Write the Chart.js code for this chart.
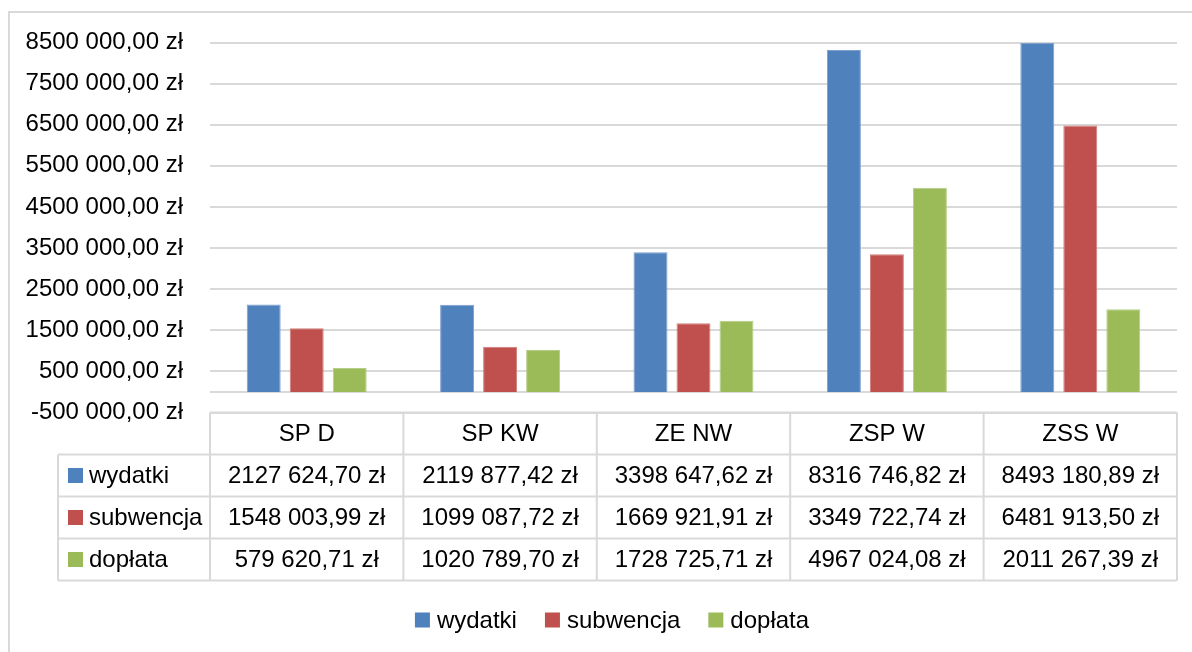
<!DOCTYPE html>
<html lang="pl">
<head>
<meta charset="utf-8">
<title>wydatki, subwencja, dopłata</title>
<script src="https://cdn.jsdelivr.net/npm/chart.js@4"></script>
<style>
  html, body { margin: 0; padding: 0; background: #fff; overflow: hidden; }
  #wrap { position: relative; width: 1192px; height: 652px; }
</style>
</head>
<body>
<div id="wrap"><canvas id="chart"></canvas></div>
<script>
// data
const categories = ['SP D', 'SP KW', 'ZE NW', 'ZSP W', 'ZSS W'];
const wydatki = [2127624.70, 2119877.42, 3398647.62, 8316746.82, 8493180.89];
const subwencja = [1548003.99, 1099087.72, 1669921.91, 3349722.74, 6481913.50];
const doplata = [579620.71, 1020789.70, 1728725.71, 4967024.08, 2011267.39];
const seriesNames = ['wydatki', 'subwencja', 'dopłata'];
const seriesColors = ['#4F81BD', '#C0504D', '#9BBB59'];
const seriesEdges = ['#7c9fcd', '#d07e7b', '#b5cd88'];
const yMin = -500000, yMax = 8500000, yStep = 1000000;

const FONT = "'Liberation Sans', Arial, sans-serif";
const GRID = '#d9d9d9';

// excel-like "8500 000,00 zł"
function formatZl(v) {
    const neg = v < 0;
    const parts = Math.abs(v).toFixed(2).split('.');
    let whole = parts[0];
    if (whole.length > 3) whole = whole.slice(0, -3) + ' ' + whole.slice(-3);
    return (neg ? '-' : '') + whole + ',' + parts[1] + ' zł';
}

const allSeries = [wydatki, subwencja, doplata];

// frame, zero line, data table and legend
const extras = {
    id: 'extras',
    beforeDraw(chart) {
        const ctx = chart.ctx;
        ctx.save();
        ctx.strokeStyle = GRID;
        ctx.lineWidth = 2;
        ctx.strokeRect(9, 12, 1230, 700);
        ctx.restore();
    },
    beforeDatasetsDraw(chart) {
        const ctx = chart.ctx, area = chart.chartArea;
        const y0 = chart.scales.y.getPixelForValue(0);
        ctx.save();
        ctx.strokeStyle = GRID;
        ctx.lineWidth = 2;
        ctx.beginPath();
        ctx.moveTo(area.left, y0);
        ctx.lineTo(area.right, y0);
        ctx.stroke();
        ctx.restore();
    },
    afterDraw(chart) {
        const ctx = chart.ctx, area = chart.chartArea, xs = chart.scales.x;
        const colW = (area.right - area.left) / categories.length;
        const top = area.bottom;
        const rowH = 42;
        const labelLeft = 58;
        const bottom = top + rowH * 4;

        ctx.save();
        ctx.strokeStyle = GRID;
        ctx.lineWidth = 2;
        ctx.beginPath();
        ctx.moveTo(area.left, top);
        ctx.lineTo(area.right, top);
        for (let r = 1; r <= 4; r++) {
            ctx.moveTo(labelLeft, top + rowH * r);
            ctx.lineTo(area.right, top + rowH * r);
        }
        categories.forEach((c, i) => {
            const xl = xs.getPixelForValue(i) - colW / 2;
            ctx.moveTo(xl, top);
            ctx.lineTo(xl, bottom);
        });
        ctx.moveTo(area.right, top);
        ctx.lineTo(area.right, bottom);
        ctx.moveTo(labelLeft, top + rowH);
        ctx.lineTo(labelLeft, bottom);
        ctx.stroke();

        ctx.fillStyle = '#000';
        ctx.font = '24px ' + FONT;
        ctx.textBaseline = 'middle';
        ctx.textAlign = 'center';
        categories.forEach((c, i) => {
            const cx = xs.getPixelForValue(i);
            ctx.fillText(c, cx, top + rowH / 2 + 1);
            allSeries.forEach((s, k) => {
                ctx.fillText(formatZl(s[i]), cx, top + rowH * (k + 1.5) + 1);
            });
        });

        // row labels with keys
        ctx.textAlign = 'left';
        seriesNames.forEach((name, k) => {
            const cy = top + rowH * (k + 1.5);
            ctx.fillStyle = seriesColors[k];
            ctx.fillRect(68, cy - 7.5, 15, 15);
            ctx.fillStyle = '#000';
            ctx.fillText(name, 89, cy + 1);
        });

        // legend
        const gap = 28, box = 15, boxGap = 7;
        const widths = seriesNames.map(n => box + boxGap + ctx.measureText(n).width);
        const total = widths.reduce((a, b) => a + b, 0) + gap * (seriesNames.length - 1);
        let lx = 612 - total / 2;
        const ly = 620;
        seriesNames.forEach((name, k) => {
            ctx.fillStyle = seriesColors[k];
            ctx.fillRect(lx, ly - 7.5, box, box);
            ctx.fillStyle = '#000';
            ctx.fillText(name, lx + box + boxGap, ly + 1);
            lx += widths[k] + gap;
        });
        ctx.restore();
    }
};

new Chart(document.getElementById('chart'), {
    type: 'bar',
    data: {
        labels: categories,
        datasets: allSeries.map((s, k) => ({
            label: seriesNames[k],
            data: s,
            backgroundColor: seriesColors[k],
            borderColor: seriesEdges[k],
            borderWidth: 1,
            categoryPercentage: 0.667,
            barPercentage: 0.79
        }))
    },
    options: {
        responsive: true,
        maintainAspectRatio: false,
        animation: false,
        layout: { padding: { left: 0, top: 42.5, right: 15, bottom: 239.5 } },
        plugins: { legend: { display: false }, tooltip: { enabled: false } },
        scales: {
            x: { display: false },
            y: {
                min: yMin,
                max: yMax,
                afterFit(scale) { scale.width = 210; },
                border: { display: false },
                grid: { color: GRID, lineWidth: 2, drawTicks: false },
                ticks: {
                    stepSize: yStep,
                    padding: 27,
                    color: '#000',
                    font: { family: FONT, size: 24 },
                    callback: v => formatZl(v)
                }
            }
        }
    },
    plugins: [extras]
});
</script>
</body>
</html>
